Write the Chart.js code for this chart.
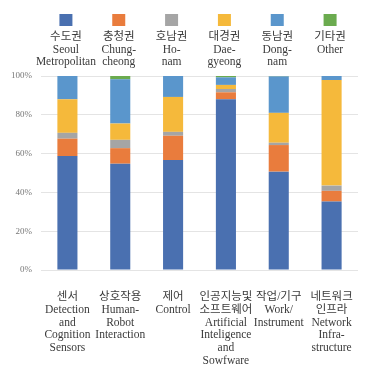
<!DOCTYPE html>
<html lang="ko">
<head>
<meta charset="UTF-8">
<title>Chart</title>
<script src="https://cdn.jsdelivr.net/npm/chart.js"></script>
<style>
  html, body { margin: 0; padding: 0; background: #fff; }
  #wrap { width: 379px; height: 372px; }
</style>
</head>
<body>
<div id="wrap"><canvas id="regionChart" width="379" height="372"></canvas></div>
<script>
  // categories (Korean + English, one line per entry)
  const categories = [
    ["센서", "Detection", "and", "Cognition", "Sensors"],
    ["상호작용", "Human-", "Robot", "Interaction"],
    ["제어", "Control"],
    ["인공지능및", "소프트웨어", "Artificial", "Inteligence", "and", "Sowfware"],
    ["작업/기구", "Work/", "Instrument"],
    ["네트워크", "인프라", "Network", "Infra-", "structure"]
  ];

  const seriesNames = [
    ["수도권", "Seoul", "Metropolitan"],
    ["충청권", "Chung-", "cheong"],
    ["호남권", "Ho-", "nam"],
    ["대경권", "Dae-", "gyeong"],
    ["동남권", "Dong-", "nam"],
    ["기타권", "Other"]
  ];
  const seriesColors = ["#4a70b0", "#e97c3d", "#a5a5a5", "#f5b93b", "#5a96cc", "#6bab4f"];

  // share (%) per region, per category
  const seoul    = [58.7, 54.8, 56.7, 88.0, 50.7, 35.3];
  const chungcheong = [9.0, 8.0, 12.5, 3.6, 13.7, 5.5];
  const honam    = [3.0, 4.3, 2.0, 1.7, 1.2, 2.7];
  const daegyeong = [17.3, 8.4, 18.0, 2.1, 15.4, 54.4];
  const dongnam  = [12.0, 22.8, 10.8, 3.9, 18.8, 2.1];
  const other    = [0.0, 1.7, 0.0, 0.7, 0.2, 0.0];

  const yTicks = [0, 20, 40, 60, 80, 100];

  const seriesData = [seoul, chungcheong, honam, daegyeong, dongnam, other];

  const fontFamily = "'Liberation Serif', 'Noto Sans CJK KR', serif";

  // legend drawn above the plot: box, then name lines, centred on each bar column
  const topLegend = {
    id: "topLegend",
    afterDraw(chart) {
      const ctx = chart.ctx;
      const x = chart.scales.x;
      ctx.save();
      ctx.font = "11.5px " + fontFamily;
      ctx.textAlign = "center";
      ctx.textBaseline = "middle";
      seriesNames.forEach((lines, i) => {
        const cx = x.getPixelForValue(i) - 1.5;
        ctx.fillStyle = seriesColors[i];
        ctx.fillRect(cx - 6.5, 14, 13, 12);
        ctx.fillStyle = "#3a3a3a";
        lines.forEach((t, j) => ctx.fillText(t, cx, 37 + j * 12.5));
      });
      ctx.restore();
    }
  };

  new Chart(document.getElementById("regionChart"), {
    type: "bar",
    data: {
      labels: categories,
      datasets: seriesData.map((d, i) => ({
        label: seriesNames[i].join(" "),
        data: d,
        backgroundColor: seriesColors[i],
        borderWidth: 0,
        barPercentage: 0.38,
        categoryPercentage: 1.0
      }))
    },
    options: {
      responsive: false,
      animation: false,
      layout: { padding: { top: 76, right: 21, left: 0, bottom: 0 } },
      plugins: { legend: { display: false }, tooltip: { enabled: false } },
      scales: {
        x: {
          stacked: true,
          grid: { display: false, drawTicks: false },
          border: { display: false },
          ticks: {
            color: "#3a3a3a",
            font: { family: fontFamily, size: 11.5, lineHeight: 1.1 },
            padding: 21,
            maxRotation: 0,
            autoSkip: false
          },
          afterFit(scale) { scale.height = 102; }
        },
        y: {
          stacked: true,
          min: 0,
          max: 100,
          afterBuildTicks(scale) { scale.ticks = yTicks.map(v => ({ value: v })); },
          grid: { color: "#e4e4e4", drawTicks: false },
          border: { display: false },
          ticks: {
            color: "#777",
            font: { family: fontFamily, size: 9 },
            padding: 9,
            callback: v => v + "%"
          },
          afterFit(scale) { scale.width = 41; }
        }
      }
    },
    plugins: [topLegend]
  });
</script>
</body>
</html>
